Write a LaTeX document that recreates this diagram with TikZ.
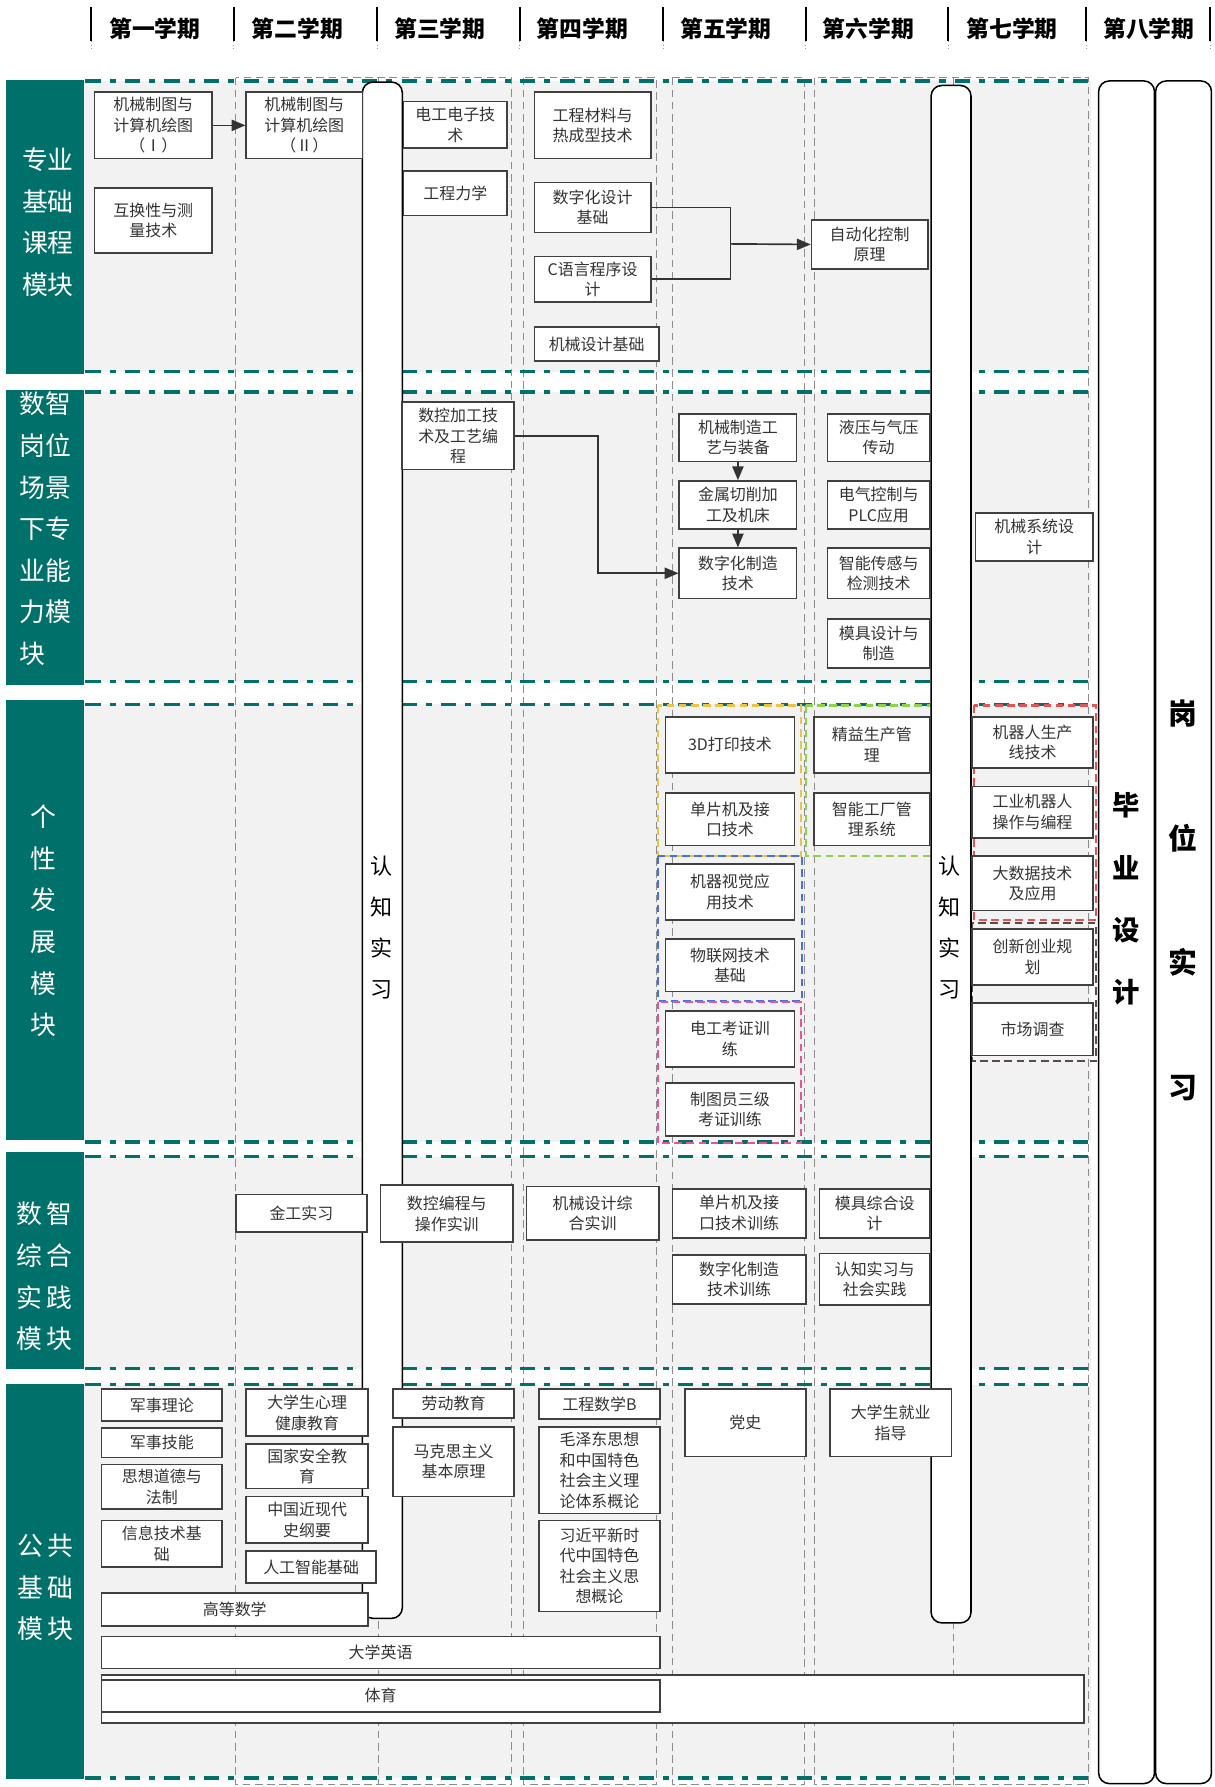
\documentclass[tikz,border=0pt]{standalone}
\usepackage{fontspec}
\setmainfont{Noto Sans CJK SC}
\usepackage{tikz}
\usetikzlibrary{arrows}

\definecolor{modteal}{RGB}{0,112,107}
\definecolor{bandgray}{RGB}{242,242,242}
\definecolor{boxline}{RGB}{64,64,64}
\definecolor{grpyellow}{RGB}{232,197,71}
\definecolor{grpgreen}{RGB}{146,208,80}
\definecolor{grpblue}{RGB}{74,111,224}
\definecolor{grppink}{RGB}{230,85,154}
\definecolor{grpred}{RGB}{224,85,85}
\definecolor{grpbrown}{RGB}{92,74,72}

% course box from its corners (x1,y1) to (x2,y2)
\newcommand{\course}[6]{%
  \node[course, minimum width={(#4-#2)*0.75pt}, minimum height={(#5-#3)*0.75pt}]
    (#1) at ({(#2+#4)/2},{(#3+#5)/2}) {#6};}

\begin{document}
\begin{tikzpicture}[x=0.75pt, y=-0.75pt,
    course/.style={draw=boxline, line width=1.1pt, fill=white, inner sep=1pt,
                   align=center, text=black!80, font=\fontsize{10.5}{13.5}\selectfont},
    link/.style={draw=black!80, line width=1.1pt, -triangle 45},
    conn/.style={draw=black!80, line width=1.1pt},
    rowline/.style={draw=modteal, line width=2.2pt,
                    dash pattern=on 10pt off 6pt on 4pt off 6pt},
    colline/.style={draw=black!45, line width=0.7pt, dash pattern=on 5pt off 3pt},
    bar/.style={draw=black, line width=1pt, fill=white, rounded corners=7pt},
    grp/.style={line width=1.4pt, dash pattern=on 5pt off 3pt},
    modtext/.style={text=white, align=center, font=\fontsize{17}{27.4}\selectfont},
    bartext/.style={align=center, font=\fontsize{14.5}{27}\selectfont},
    term/.style={font=\fontsize{15}{18}\selectfont\bfseries}]

  \useasboundingbox (0,0) rectangle (1066,1568);

  % semester header
  \foreach \x in {80,205,331,456,582,707,832,953,1062} {
    \draw[line width=1.2pt] (\x,6) -- (\x,36);
    \draw[black!40, dotted] (\x,36) -- (\x,44);
  }
  \foreach \x/\t [count=\i] in {136/第一学期, 261/第二学期, 386/第三学期, 511/第四学期,
                                637/第五学期, 762/第六学期, 888/第七学期, 1008/第八学期}
    \node[term] (sem\i) at (\x,25) {\t};

  % module bands
  \foreach \a/\b in {71/326, 344/598, 618/1002, 1015/1201, 1215/1560}
    \fill[bandgray] (74,\a) rectangle (957,\b);

  \draw[colline] (207,68) rectangle (449,1566);
  \draw[colline] (459,68) rectangle (576,1566);
  \draw[colline] (590,68) rectangle (706,1566);
  \draw[colline] (715,68) rectangle (955,1566);
  \draw[colline] (332,68) -- (332,1566);
  \draw[colline] (837,68) -- (837,1566);

  \foreach \y in {71,326,344,598,618,1002,1015,1201,1215,1560}
    \draw[rowline] (75,\y) -- (962,\y);

  % module labels
  \foreach \a/\b in {70/328, 342/601, 614/1000, 1011/1201, 1214/1561}
    \fill[modteal] (5,\a) rectangle (74,\b);
  \node[modtext] (lab1) at (42,195) {专业\\基础\\课程\\模块};
  \node[modtext, align=left] (lab2) at (40,464) {数智\\岗位\\场景\\下专\\业能\\力模\\块};
  \node[modtext] (lab3) at (38,808) {个\\性\\发\\展\\模\\块};
  \node[modtext] (lab4) at (39,1120) {数\hspace{3pt}智\\综\hspace{3pt}合\\实\hspace{3pt}践\\模\hspace{3pt}块};
  \node[modtext] (lab5) at (40,1393) {公\hspace{3pt}共\\基\hspace{3pt}础\\模\hspace{3pt}块};

  % elective groups
  \draw[grp, draw=grpyellow] (577,619) rectangle (703,751);
  \draw[grp, draw=grpgreen] (707,619) rectangle (818,751);
  \draw[grp, draw=grpblue] (577,751) rectangle (704,878);
  \draw[grp, draw=grppink] (577,879) rectangle (703,1003);
  \draw[grp, draw=grpred] (855,619) rectangle (962,807);
  \draw[grp, draw=grpbrown] (853,810) rectangle (962,931);

  % long bars
  \draw[bar] (318,72) rectangle (353,1420);
  \draw[bar] (817,75) rectangle (852,1424);
  \draw[bar] (964,71) rectangle (1013,1565);
  \draw[bar] (1014,71) rectangle (1063,1565);
  \node[bartext] (rz1) at (335,814) {认\\知\\实\\习};
  \node[bartext] (rz2) at (833,814) {认\\知\\实\\习};
  \node[align=center, font=\fontsize{18}{41}\selectfont\bfseries] (bysj) at (988,789) {毕\\业\\设\\计};
  \node[align=center, font=\fontsize{19}{82}\selectfont\bfseries] (gwsx) at (1038,790) {岗\\位\\实\\习};

  % professional basics
  \course{jt1}{83}{81}{186}{139}{机械制图与\\计算机绘图\\（Ⅰ）}
  \course{jt2}{216}{81}{318}{139}{机械制图与\\计算机绘图\\（Ⅱ）}
  \course{hhx}{83}{165}{186}{222}{互换性与测\\量技术}
  \course{dgdz}{354}{89}{445}{130}{电工电子技\\术}
  \course{gclx}{354}{150}{445}{189}{工程力学}
  \course{gccl}{469}{81}{571}{139}{工程材料与\\热成型技术}
  \course{szsj}{469}{160}{571}{204}{数字化设计\\基础}
  \course{cyy}{469}{225}{571}{265}{C语言程序设\\计}
  \course{jxsj}{469}{287}{578}{317}{机械设计基础}
  \course{zdh}{712}{193}{814}{236}{自动化控制\\原理}

  % professional abilities
  \course{skjg}{353}{353}{451}{412}{数控加工技\\术及工艺编\\程}
  \course{jxzz}{596}{363}{699}{405}{机械制造工\\艺与装备}
  \course{jsqx}{596}{422}{699}{464}{金属切削加\\工及机床}
  \course{szzz}{596}{481}{699}{525}{数字化制造\\技术}
  \course{yy}{726}{363}{816}{405}{液压与气压\\传动}
  \course{dq}{726}{422}{816}{464}{电气控制与\\PLC应用}
  \course{cg}{726}{481}{816}{525}{智能传感与\\检测技术}
  \course{mj}{726}{543}{816}{586}{模具设计与\\制造}
  \course{jxxt}{856}{450}{959}{492}{机械系统设\\计}

  % personal development
  \course{dy}{584}{629}{697}{678}{3D打印技术}
  \course{dpj}{584}{696}{697}{742}{单片机及接\\口技术}
  \course{jqsj}{584}{758}{697}{807}{机器视觉应\\用技术}
  \course{wlw}{584}{824}{697}{870}{物联网技术\\基础}
  \course{dgkz}{584}{887}{697}{936}{电工考证训\\练}
  \course{ztyk}{584}{950}{697}{997}{制图员三级\\考证训练}
  \course{jysc}{714}{629}{816}{678}{精益生产管\\理}
  \course{zngc}{714}{696}{816}{742}{智能工厂管\\理系统}
  \course{jqr}{853}{629}{959}{674}{机器人生产\\线技术}
  \course{gyjqr}{853}{690}{959}{735}{工业机器人\\操作与编程}
  \course{dsj}{853}{751}{959}{799}{大数据技术\\及应用}
  \course{cxcy}{853}{815}{959}{864}{创新创业规\\划}
  \course{scdc}{853}{880}{959}{926}{市场调查}

  % practice
  \course{jgsx}{207}{1048}{322}{1081}{金工实习}
  \course{skbc}{334}{1040}{450}{1090}{数控编程与\\操作实训}
  \course{jxzh}{462}{1041}{578}{1088}{机械设计综\\合实训}
  \course{dpjxl}{590}{1043}{707}{1086}{单片机及接\\口技术训练}
  \course{mjzh}{719}{1043}{816}{1086}{模具综合设\\计}
  \course{szxl}{590}{1101}{707}{1144}{数字化制造\\技术训练}
  \course{rzsj}{719}{1100}{816}{1145}{认知实习与\\社会实践}

  % public basics
  \course{jsll}{89}{1219}{195}{1247}{军事理论}
  \course{jsjn}{89}{1253}{195}{1279}{军事技能}
  \course{sxdd}{89}{1285}{195}{1324}{思想道德与\\法制}
  \course{xxjs}{89}{1334}{195}{1375}{信息技术基\\础}
  \course{xljk}{216}{1219}{323}{1260}{大学生心理\\健康教育}
  \course{gjaq}{216}{1267}{323}{1306}{国家安全教\\育}
  \course{zgjd}{216}{1313}{323}{1354}{中国近现代\\史纲要}
  \course{rgzn}{216}{1361}{330}{1389}{人工智能基础}
  \course{gdsx}{89}{1398}{323}{1427}{高等数学}
  \course{ldjy}{345}{1219}{451}{1244}{劳动教育}
  \course{mks}{345}{1252}{451}{1313}{马克思主义\\基本原理}
  \course{gcsx}{473}{1219}{579}{1245}{工程数学B}
  \course{mzd}{473}{1252}{579}{1328}{毛泽东思想\\和中国特色\\社会主义理\\论体系概论}
  \course{xjp}{473}{1334}{579}{1414}{习近平新时\\代中国特色\\社会主义思\\想概论}
  \course{dangshi}{601}{1219}{707}{1278}{党史}
  \course{jyzd}{728}{1219}{835}{1278}{大学生就业\\指导}
  \course{dxyy}{89}{1436}{579}{1464}{大学英语}
  \course{tyout}{89}{1470}{951}{1512}{}
  \course{ty}{89}{1474}{579}{1502}{体育}

  % prerequisites
  \coordinate (jn) at (641,214);
  \draw[link] (jt1) -- (jt2);
  \draw[conn] (szsj.east) -| (jn);
  \draw[conn] (cyy.east) -| (jn);
  \draw[link] (jn) -- (zdh.west);
  \draw[link] (skjg.east) -- ++(73,0) |- (szzz.west);
  \foreach \a/\b in {jxzz/jsqx, jsqx/szzz}
    \draw[link] (\a) -- (\b);
\end{tikzpicture}
\end{document}
